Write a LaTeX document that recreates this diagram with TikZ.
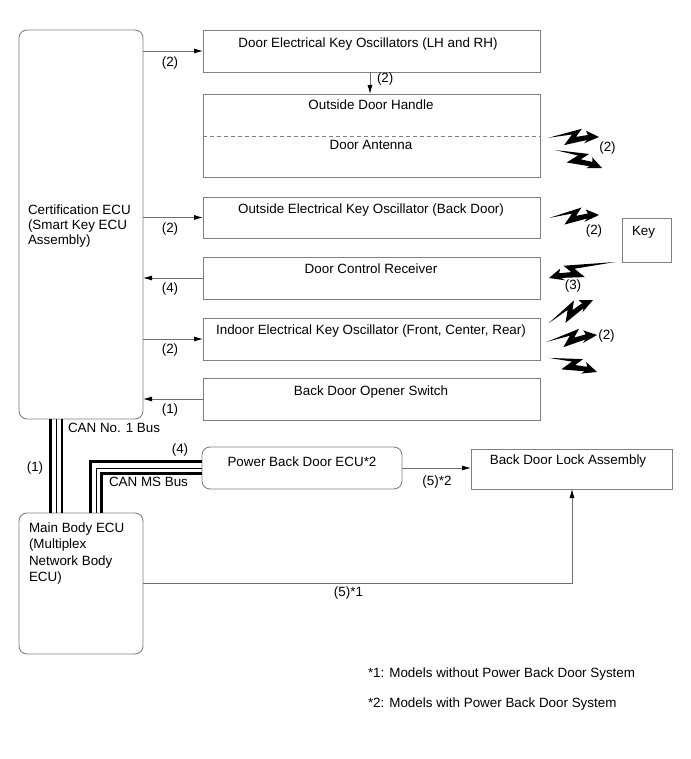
\documentclass[tikz,border=0pt]{standalone}
\usepackage{fontspec}
\setmainfont{Liberation Sans}
\usetikzlibrary{arrows.meta,calc}
\definecolor{boxgray}{RGB}{128,128,128}
\definecolor{linegray}{RGB}{110,110,110}
\newcommand\litbolt[5]{%
  \begin{scope}[shift={(#1,#2)},rotate=#3,yscale=#4]
    \fill[black] (-#5,0) -- (-17,8.5) -- (-23,0.5) -- (-11,2.2) -- (-13,6.5) -- (0,0)
      -- (-15,-6) -- (-12,-2.8) -- (-35,-7.5) -- (-27,3) -- cycle;
  \end{scope}}
\begin{document}
\begin{tikzpicture}[x=1pt,y=-1pt,
  every node/.style={font=\fontsize{13.4}{15}\selectfont, inner sep=0pt, outer sep=0pt, text=black},
  box/.style={draw=boxgray, line width=0.9pt, rectangle, inner sep=0pt, outer sep=0pt, anchor=north west},
  rbox/.style={box, rounded corners=8pt},
  conn/.style={draw=linegray, line width=0.8pt},
  arr/.style={conn, -{Latex[length=9pt,width=5pt,color=black]}},
  lbl/.style={anchor=base},
  thickbus/.style={draw=black, line width=2.7pt, line join=miter},
  thinbus/.style={draw=black, line width=1pt, line join=miter}]
\useasboundingbox (0,0) rectangle (690,759);

% boxes
\node[rbox, minimum width=124pt, minimum height=389pt] (cert) at (19,30) {};
\node[box, minimum width=337pt, minimum height=42pt] (b1) at (203,30) {};
\node[box, minimum width=337pt, minimum height=83pt] (b2) at (203,94) {};
\node[box, minimum width=337pt, minimum height=41pt] (b3) at (203,197) {};
\node[box, minimum width=337pt, minimum height=42pt] (b4) at (203,257) {};
\node[box, minimum width=337pt, minimum height=42pt] (b5) at (203,318) {};
\node[box, minimum width=337pt, minimum height=42pt] (b6) at (203,378) {};
\node[box, minimum width=49pt, minimum height=44pt] (key) at (622,218) {};
\node[rbox, minimum width=200pt, minimum height=42pt] (pbd) at (202,447) {};
\node[box, minimum width=201pt, minimum height=40pt] (lock) at (471,449) {};
\node[rbox, minimum width=124pt, minimum height=141pt] (main) at (19,513) {};

\draw[boxgray, line width=0.7pt, dash pattern=on 4pt off 3pt]
  ($(b2.north west)!0.506!(b2.south west)$) -- ($(b2.north east)!0.506!(b2.south east)$);

% texts in boxes
\node[lbl] (t1) at (368,48) {Door Electrical Key Oscillators (LH and RH)};
\node[lbl] (t2a) at (371,109.5) {Outside Door Handle};
\node[lbl] (t2b) at (371,149.5) {Door Antenna};
\node[lbl] (t3) at (371,213.5) {Outside Electrical Key Oscillator (Back Door)};
\node[lbl] (t4) at (371,273.3) {Door Control Receiver};
\node[lbl] (t5) at (371,334) {Indoor Electrical Key Oscillator (Front, Center, Rear)};
\node[lbl] (t6) at (371,395) {Back Door Opener Switch};
\node[anchor=base west] (tk) at (632,235) {Key};
\node[lbl] (tp) at (302,466.7) {Power Back Door ECU*2};
\node[lbl] (tl) at (568,464) {Back Door Lock Assembly};
\node[anchor=base west, align=left] (tc) at (28,244) {Certification ECU\\(Smart Key ECU\\Assembly)};
\node[anchor=base west, align=left, font=\fontsize{13.4}{16.5}\selectfont] (tm) at (29,581.5) {Main Body ECU\\(Multiplex\\Network Body\\ECU)};

% connectors from certification ECU
\draw[arr] (cert.east |- b1.west) -- (b1.west);
\draw[arr] (cert.east |- b3.west) -- (b3.west);
\draw[arr] (b4.west) -- (cert.east |- b4.west);
\draw[arr] (cert.east |- b5.west) -- (b5.west);
\draw[arr] (b6.west) -- (cert.east |- b6.west);
\node[lbl] (l1) at (170,66.5) {(2)};
\node[lbl] (l3) at (170,232) {(2)};
\node[lbl] (l4) at (170,292.5) {(4)};
\node[lbl] (l5) at (170,353.5) {(2)};
\node[lbl] (l6) at (170,413.5) {(1)};

\coordinate (x370) at (370,0);
\draw[arr] (b1.south -| x370) -- (b2.north -| x370);
\node[anchor=base west] (l12) at (377,83) {(2)};

% buses
\coordinate (c1) at (50.5,0);
\coordinate (c2) at (56,0);
\coordinate (c3) at (62,0);
\draw[thickbus] (c1 |- cert.south) -- (c1 |- main.north);
\draw[thinbus] (c2 |- cert.south) -- (c2 |- main.north);
\draw[thickbus] (c3 |- cert.south) -- (c3 |- main.north);
\node[anchor=base west] (can1) at (68,432.3) {CAN No. 1 Bus};
\node[lbl] (l1bus) at (35,471.5) {(1)};

\coordinate (m1) at (90.5,461.5);
\coordinate (m2) at (96,468);
\coordinate (m3) at (101.5,473.5);
\draw[thickbus] (m1 |- main.north) -- (m1) -- (m1 -| pbd.west);
\draw[thinbus] (m2 |- main.north) -- (m2) -- (m2 -| pbd.west);
\draw[thickbus] (m3 |- main.north) -- (m3) -- (m3 -| pbd.west);
\node[lbl] (l4bus) at (180,453) {(4)};
\node[anchor=base west] (canms) at (109,486.7) {CAN MS Bus};

% lock connections
\draw[arr] (pbd.east) -- (pbd.east -| lock.west);
\node[lbl] (l52) at (437,485) {(5)*2};
\coordinate (y583) at (0,583);
\coordinate (x572) at (572,0);
\draw[arr] (main.east |- y583) -- (x572 |- y583) -- (x572 |- lock.south);
\node[lbl] (l51) at (348.5,596.7) {(5)*1};

% wireless
\litbolt{599}{137}{1}{-1}{51}
\litbolt{602}{168}{-21}{-1}{50}
\node[lbl] (w1) at (607.5,152) {(2)};
\litbolt{599}{215}{3.4}{-1}{50}
\node[lbl] (w2) at (594,234) {(2)};
\litbolt{549}{278}{-166.4}{1}{68}
\node[lbl] (w3) at (573,289.5) {(3)};
\litbolt{593}{300}{27.6}{-1}{50}
\litbolt{597}{335}{7.8}{-1}{51}
\litbolt{597}{372}{-16.3}{-1}{50}
\node[lbl] (w4) at (606.5,339) {(2)};

% footnotes
\node[anchor=base west] (f1) at (368,677.3) {*1: Models without Power Back Door System};
\node[anchor=base west] (f2) at (368,707.3) {*2: Models with Power Back Door System};
\end{tikzpicture}
\end{document}
